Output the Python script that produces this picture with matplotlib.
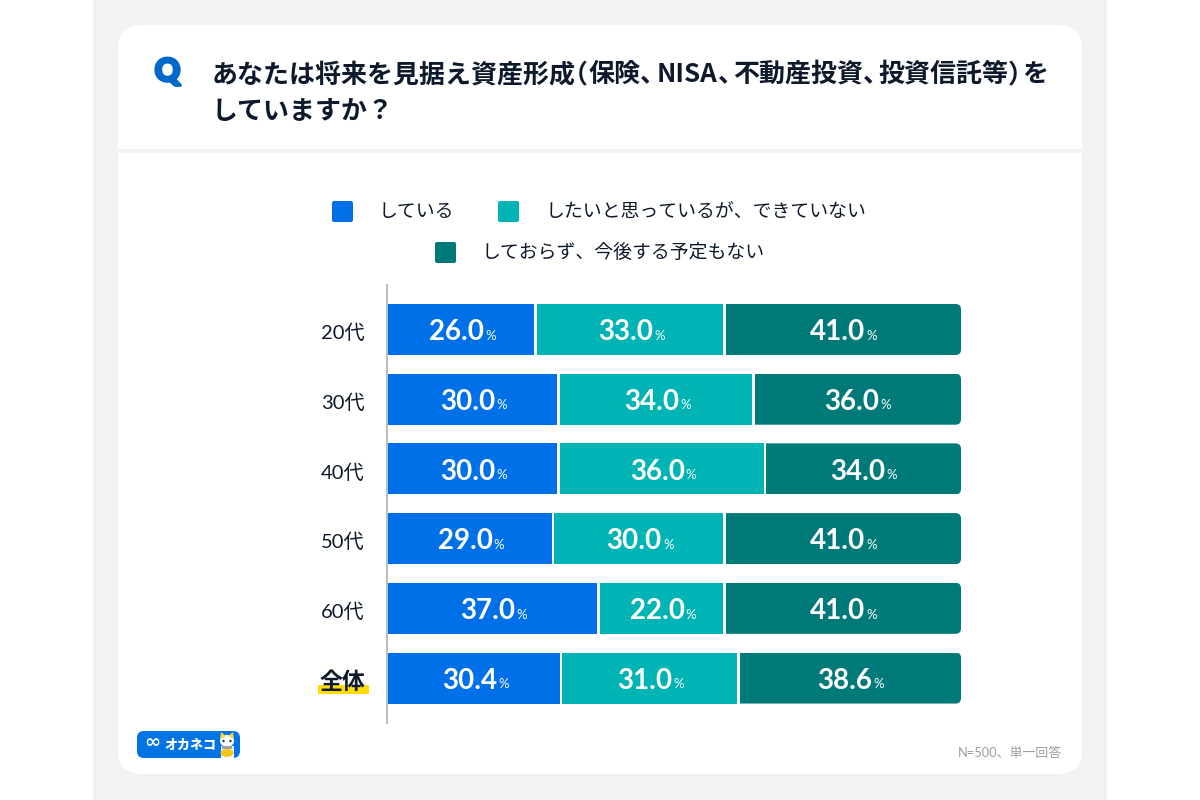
import matplotlib
matplotlib.use("Agg")
import matplotlib.pyplot as plt
import matplotlib.patheffects as pe
from matplotlib.patches import FancyBboxPatch, Rectangle, Ellipse, Polygon
from matplotlib.transforms import ScaledTranslation

jp = ["Noto Sans CJK JP", "DejaVu Sans"]
latin_jp = ["Lato", "Noto Sans CJK JP", "DejaVu Sans"]
plt.rcParams["font.family"] = jp

# first line of the title is set in pieces because the original has tight punctuation
title_pieces = ["あなたは将来を見据え資産形成", "（", "保険、", "NISA", "、", "不動産投資", "、", "投資信託等", "）", "を"]
title_x = [212, 588, 589, 657, 718, 733, 863, 878, 1008, 1022]
title_ha = ["left", "right", "left", "left", "left", "left", "left", "left", "left", "left"]
title_line2 = "していますか？"
categories = ["20代", "30代", "40代", "50代", "60代", "全体"]
series_names = ["している", "したいと思っているが、できていない", "しておらず、今後する予定もない"]
doing = [26.0, 30.0, 30.0, 29.0, 37.0, 30.4]
want = [33.0, 34.0, 36.0, 30.0, 22.0, 31.0]
not_doing = [41.0, 36.0, 34.0, 41.0, 41.0, 38.6]
colors = ["#0070E8", "#00B3B5", "#007A78"]
ink = "#0E1A2B"
gap = 0.45

fig = plt.figure(figsize=(12, 8), dpi=100, facecolor="white")

# page furniture, in pixel coordinates
bg = fig.add_axes([0, 0, 1, 1])
bg.set_xlim(0, 1200)
bg.set_ylim(800, 0)
bg.axis("off")
bg.add_patch(Rectangle((93, 0), 1014, 800, fc="#F1F2F4", ec="none"))
bg.add_patch(FancyBboxPatch((142, 49), 916, 701, boxstyle="round,pad=24,rounding_size=24", fc="white", ec="none"))
bg.add_patch(Rectangle((118, 148.5), 964, 4, fc="#F1F2F4", ec="none"))

q = bg.text(167.5, 72, "Q", color="#0068C9", fontsize=22.5, fontweight="black", family="Lato", ha="center", va="center")
q.set_path_effects([pe.withStroke(linewidth=2.2, foreground="#0068C9")])
for piece, x, ha in zip(title_pieces, title_x, title_ha):
    bg.text(x, 74.5, piece, color=ink, fontsize=18.7, fontweight="bold", ha=ha, va="center")
bg.text(212, 111.5, title_line2, color=ink, fontsize=18.7, fontweight="bold", va="center")

# legend
legend_pos = [(332, 211, 379), (498, 211, 546), (435, 252, 482)]
for name, c, (sx, sy, tx) in zip(series_names, colors, legend_pos):
    bg.add_patch(FancyBboxPatch((sx + 2, sy - 8), 17, 17, boxstyle="round,pad=2,rounding_size=2", fc=c, ec="none"))
    bg.text(tx, sy + 1, name, color=ink, fontsize=13.6, va="center")

# highlight under the total label
bg.add_patch(Rectangle((318, 685), 51, 9, fc="#FFDC00", ec="none"))

# logo
bg.add_patch(FancyBboxPatch((142, 736), 93, 17, boxstyle="round,pad=5,rounding_size=7", fc="#0073E6", ec="none"))
bg.text(152.5, 743, "∞", color="white", fontsize=14, fontweight="bold", family="DejaVu Sans", ha="center", va="center")
bg.text(164, 744.5, "オカネコ", color="white", fontsize=9.4, fontweight="black", va="center")
bg.add_patch(Rectangle((220.5, 746), 13, 12, fc="white", ec="none"))
bg.add_patch(Ellipse((227, 741), 14, 12, fc="white", ec="none"))
bg.add_patch(Polygon([(220, 739), (221, 732), (226, 736)], fc="#F5D33C", ec="none"))
bg.add_patch(Polygon([(234, 739), (233, 732), (228, 736)], fc="#F5D33C", ec="none"))
bg.add_patch(Ellipse((223.5, 741), 2.4, 2.4, fc="#333333", ec="none"))
bg.add_patch(Ellipse((230.5, 741), 2.4, 2.4, fc="#333333", ec="none"))
bg.add_patch(Rectangle((222, 746), 10, 3, fc="#9AA0A6", ec="none"))
bg.add_patch(Ellipse((227, 753), 13, 8, fc="#F5C518", ec="none"))

bg.text(1062, 753, "N=500、単一回答", color="#9A9EA3", fontsize=9.3, family=latin_jp, ha="right", va="center")

# chart
ax = fig.add_axes([388 / 1200, 1 - 723 / 800, 573 / 1200, 438 / 800])
ax.patch.set_alpha(0)
# spine position has to come first, it resets the ticks
for s in ["top", "right", "bottom"]:
    ax.spines[s].set_visible(False)
ax.spines["left"].set_color("#B9BCC0")
ax.spines["left"].set_linewidth(1.4)
ax.spines["left"].set_position(("outward", 0.7))

ypos = list(range(len(categories)))
lefts = [0.0] * len(categories)
groups = [doing, want, not_doing]
for k, vals in enumerate(groups):
    last = k == len(groups) - 1
    widths = [v if last else v - gap for v in vals]
    bars = ax.barh(ypos, widths, left=lefts, height=0.732, color=colors[k], linewidth=0)
    if last:
        # only the right hand end of the stack is rounded
        for b in bars:
            x0, y0, w, h = b.get_x(), b.get_y(), b.get_width(), b.get_height()
            clip = FancyBboxPatch((x0 - 5, y0), w + 5, h, boxstyle="round,pad=0,rounding_size=0.95",
                                  mutation_aspect=0.0824, transform=ax.transData, fc="none", ec="none")
            ax.add_patch(clip)
            b.set_clip_path(clip)
    lefts = [l + v for l, v in zip(lefts, vals)]

ax.set_xlim(0, 100)
ax.set_ylim(5.645, -0.638)
ax.set_xticks([])
ax.set_yticks(ypos)
ax.set_yticklabels(categories, fontsize=14.5, color=ink, family=latin_jp)
ax.tick_params(axis="y", length=0, pad=16)
labels = ax.get_yticklabels()
labels[-1].set_fontsize(16.5)
labels[-1].set_fontweight("bold")
shift = ScaledTranslation(0, -1.5 / 72, fig.dpi_scale_trans)
for lab in labels:
    lab.set_transform(lab.get_transform() + shift)

# value labels: bold number followed by a small %, centred together on the segment
fig.canvas.draw()
r = fig.canvas.get_renderer()
px_per_unit = 5.73
lefts = [0.0] * len(categories)
for vals in groups:
    for i, v in enumerate(vals):
        cx = lefts[i] + v / 2
        num = ax.text(cx, i + 0.04, f"{v:.1f}", color="white", fontsize=20, fontweight="bold", family="Lato",
                      ha="left", va="center")
        pct = ax.text(cx, i + 0.09, "%", color="white", fontsize=9.5, family="Lato", ha="left", va="center")
        wn = num.get_window_extent(r).width / px_per_unit
        wp = pct.get_window_extent(r).width / px_per_unit
        start = cx - (wn + wp + 0.2) / 2
        num.set_x(start)
        pct.set_x(start + wn + 0.2)
    lefts = [l + v for l, v in zip(lefts, vals)]

fig.savefig("out.png", dpi=100)
